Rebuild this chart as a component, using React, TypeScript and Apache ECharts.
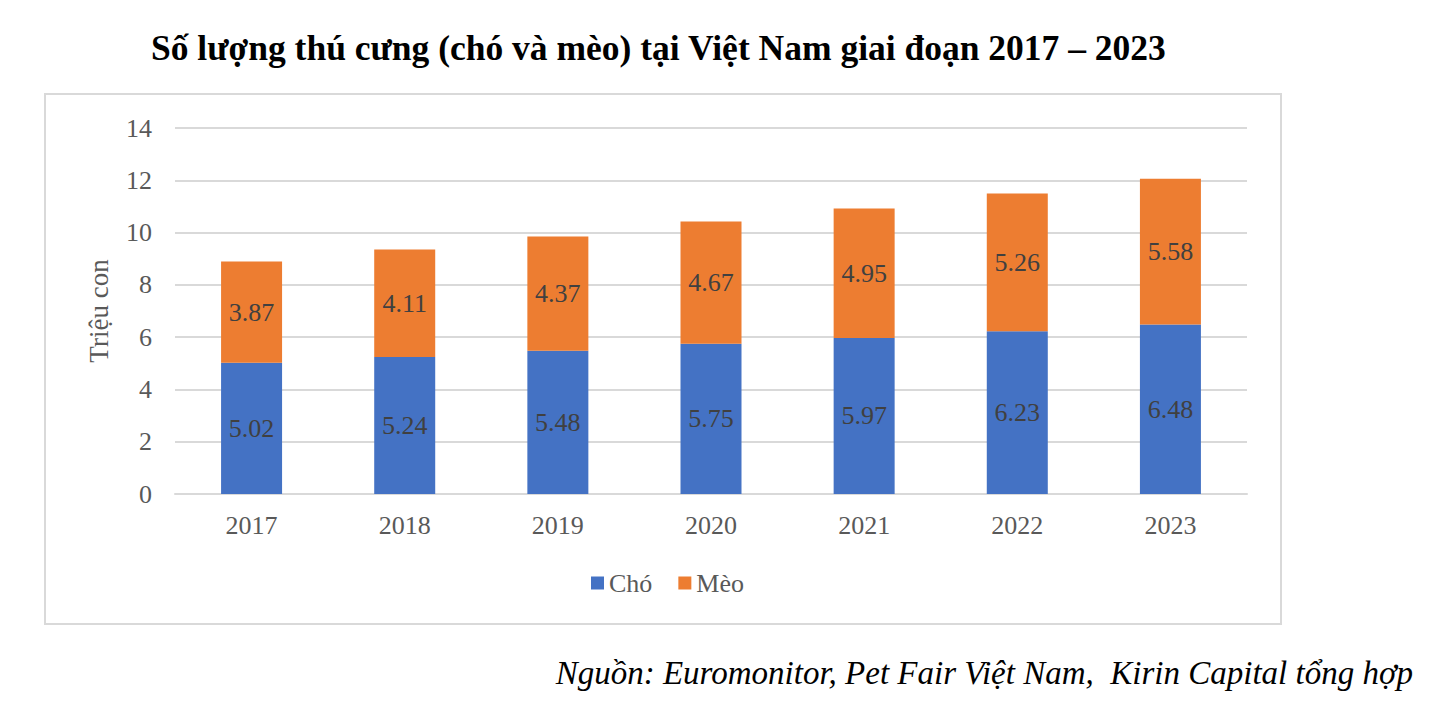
import React, { useEffect, useRef } from "react";
import * as echarts from "echarts";

const years = ["2017", "2018", "2019", "2020", "2021", "2022", "2023"];
const dogs = [5.02, 5.24, 5.48, 5.75, 5.97, 6.23, 6.48];
const cats = [3.87, 4.11, 4.37, 4.67, 4.95, 5.26, 5.58];
const seriesNames = ["Chó", "Mèo"];
const titleText = "Số lượng thú cưng (chó và mèo) tại Việt Nam giai đoạn 2017 – 2023";
const sourceText = "Nguồn: Euromonitor, Pet Fair Việt Nam,  Kirin Capital tổng hợp";
const yAxisName = "Triệu con";

const FONT = "Liberation Serif";

export default function App() {
  const ref = useRef<HTMLDivElement>(null);
  useEffect(() => {
    if (!ref.current) return;
    const chart = echarts.init(ref.current, null, { renderer: "svg" });
    const makeLabel = () => ({
      show: true,
      position: "inside",
      color: "#404040",
      fontFamily: FONT,
      fontSize: 26,
      formatter: (p: any) => Number(p.value).toFixed(2),
    });
    chart.setOption({
      animation: false,
      backgroundColor: "#ffffff",
      textStyle: { fontFamily: FONT },
      title: {
        text: titleText,
        left: 146,
        top: 25,
        textStyle: { fontFamily: FONT, fontSize: 35.5, fontWeight: "bold", color: "#000000" },
      },
      graphic: [
        {
          type: "rect",
          shape: { x: 45, y: 94, width: 1236, height: 530 },
          style: { fill: "none", stroke: "#d9d9d9", lineWidth: 2 },
          silent: true,
        },
        {
          type: "text",
          right: 20,
          top: 656,
          style: {
            text: sourceText,
            font: `italic 33px ${FONT}`,
            fill: "#000000",
          },
        },
      ],
      legend: {
        data: seriesNames,
        left: 586,
        top: 565,
        itemWidth: 13,
        itemHeight: 13,
        itemGap: 26,
        icon: "rect",
        textStyle: { fontFamily: FONT, fontSize: 26, color: "#595959" },
      },
      grid: { left: 175, right: 186, top: 128, bottom: 208 },
      xAxis: {
        type: "category",
        data: years,
        axisLine: { lineStyle: { color: "#d9d9d9", width: 2 } },
        axisTick: { show: false },
        axisLabel: { fontFamily: FONT, fontSize: 26, color: "#595959", margin: 18 },
      },
      yAxis: {
        type: "value",
        min: 0,
        max: 14,
        interval: 2,
        name: yAxisName,
        nameLocation: "middle",
        nameGap: 63,
        nameTextStyle: { fontFamily: FONT, fontSize: 27, color: "#595959" },
        axisLine: { show: false },
        axisTick: { show: false },
        axisLabel: { fontFamily: FONT, fontSize: 26, color: "#595959", margin: 23 },
        splitLine: { lineStyle: { color: "#d9d9d9", width: 2 } },
      },
      series: [
        {
          name: seriesNames[0],
          type: "bar",
          stack: "total",
          data: dogs,
          barWidth: 61,
          itemStyle: { color: "#4472C4" },
          label: makeLabel(),
        },
        {
          name: seriesNames[1],
          type: "bar",
          stack: "total",
          data: cats,
          barWidth: 61,
          itemStyle: { color: "#ED7D31" },
          label: makeLabel(),
        },
      ],
    });
    return () => chart.dispose();
  }, []);
  return (
    <div
      ref={ref}
      style={{ position: "absolute", left: 0, top: 0, width: 1433, height: 702 }}
    />
  );
}
